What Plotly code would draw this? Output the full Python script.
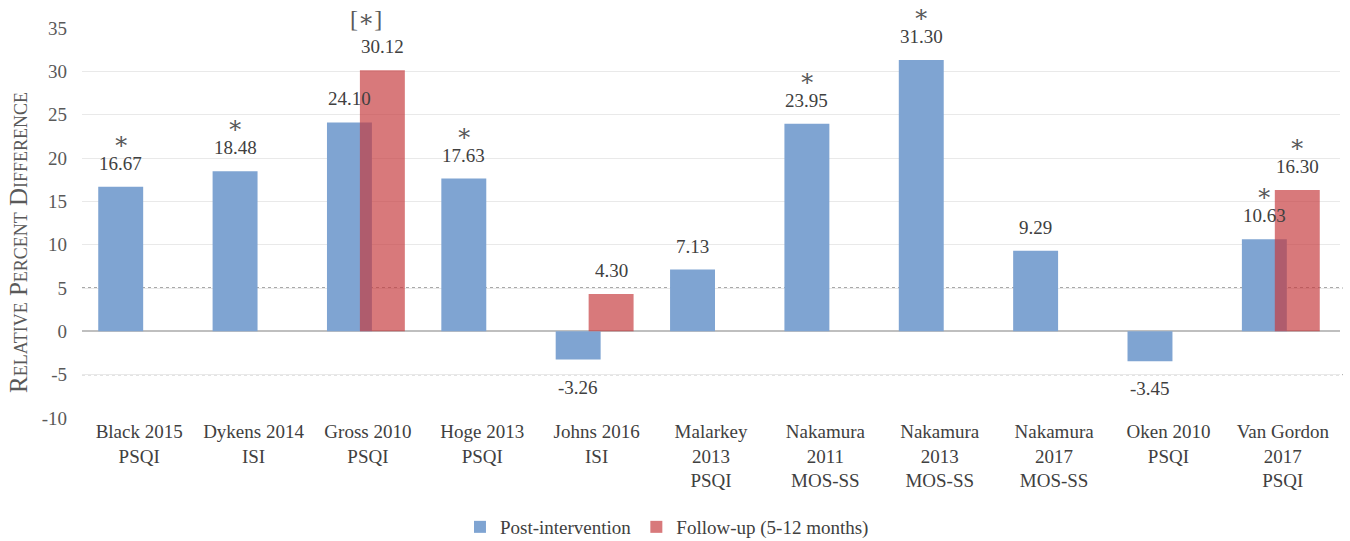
import plotly.graph_objects as go

# Studies and outcome measures (one category per study)
categories = [
    "Black 2015<br>PSQI",
    "Dykens 2014<br>ISI",
    "Gross 2010<br>PSQI",
    "Hoge 2013<br>PSQI",
    "Johns 2016<br>ISI",
    "Malarkey<br>2013<br>PSQI",
    "Nakamura<br>2011<br>MOS-SS",
    "Nakamura<br>2013<br>MOS-SS",
    "Nakamura<br>2017<br>MOS-SS",
    "Oken 2010<br>PSQI",
    "Van Gordon<br>2017<br>PSQI",
]

post_values = [16.67, 18.48, 24.10, 17.63, -3.26, 7.13, 23.95, 31.30, 9.29, -3.45, 10.63]
follow_values = [None, None, 30.12, None, 4.30, None, None, None, None, None, 16.30]

# significance markers placed above the value labels
post_sig = ["*", "*", "", "*", "", "", "*", "*", "", "", "*"]
follow_sig = ["", "", "[*]", "", "", "", "", "", "", "", "*"]

y_ticks = [-10, -5, 0, 5, 10, 15, 20, 25, 30, 35]
y_tick_text = ["-10", "-5", "0", "5", "10", "15", "20", "25", "30", "35"]
ref_lines = [5, -5]

x_pos = list(range(len(categories)))

BLUE = "#7FA4D2"
RED = "rgba(198,58,61,0.68)"
FONT = "Liberation Serif"
STAR_FONT = "DejaVu Serif"
TEXT = "#404040"
STAR = "\u2217"

BAR_W = 0.393
POST_OFF = -0.358
FOLLOW_OFF = -0.07

fig = go.Figure()
fig.add_trace(go.Bar(
    x=x_pos, y=post_values, name="Post-intervention",
    marker=dict(color=BLUE, line=dict(width=0)),
    width=BAR_W, offset=POST_OFF,
))
fig.add_trace(go.Bar(
    x=x_pos, y=follow_values, name="Follow-up (5-12 months)",
    marker=dict(color=RED, line=dict(width=0)),
    width=BAR_W, offset=FOLLOW_OFF,
))

annotations = []


def add_labels(values, sigs, center_off):
    for i, (v, s) in enumerate(zip(values, sigs)):
        if v is None:
            continue
        xc = i + center_off
        if v >= 0:
            annotations.append(dict(
                x=xc, y=v, xref="x", yref="y", text=f"{v:.2f}",
                showarrow=False, yanchor="bottom", yshift=11,
                font=dict(family=FONT, size=19, color=TEXT),
            ))
            if s == "*":
                annotations.append(dict(
                    x=xc, y=v, xref="x", yref="y", text=STAR,
                    showarrow=False, yanchor="bottom", yshift=35,
                    height=18, valign="middle",
                    font=dict(family=STAR_FONT, size=24, color="#595959"),
                ))
            elif s:
                # bracketed marker sits slightly left of the bar centre
                annotations.append(dict(
                    x=i - 0.02, y=v, xref="x", yref="y",
                    text=s.replace("*", f"<span style='font-family:{STAR_FONT}'>{STAR}</span>"),
                    showarrow=False, yanchor="bottom", yshift=35,
                    font=dict(family=FONT, size=24, color="#595959"),
                ))
        else:
            annotations.append(dict(
                x=xc, y=v, xref="x", yref="y", text=f"{v:.2f}",
                showarrow=False, yanchor="top", yshift=-15,
                font=dict(family=FONT, size=19, color=TEXT),
            ))


add_labels(post_values, post_sig, POST_OFF + BAR_W / 2)
add_labels(follow_values, follow_sig, FOLLOW_OFF + BAR_W / 2)

# rotated axis title, positioned in plot-fraction units
annotations.append(dict(
    x=(18 - 82) / 1258, y=(418 - 243) / 390, xref="paper", yref="paper",
    text="Relative Percent Difference", textangle=-90, showarrow=False,
    xanchor="center", yanchor="middle",
    font=dict(family=FONT, size=25, color="#595959", variant="small-caps"),
))

shapes = [
    dict(type="line", xref="paper", yref="y", x0=0, x1=1.002, y0=v, y1=v,
         line=dict(color="#505050", width=1, dash="dot"), layer="below")
    for v in ref_lines
]

fig.update_layout(
    width=1350, height=541,
    margin=dict(l=82, r=10, t=28, b=123, autoexpand=False),
    paper_bgcolor="white", plot_bgcolor="white",
    barmode="overlay",
    showlegend=True,
    legend=dict(
        orientation="h", x=0.465, xanchor="center",
        yref="container", y=(541 - 527) / 541, yanchor="middle",
        font=dict(family=FONT, size=19, color=TEXT),
        itemwidth=30, traceorder="normal",
    ),
    xaxis=dict(
        range=[-0.5, len(categories) - 0.5],
        tickvals=x_pos, ticktext=categories,
        tickfont=dict(family=FONT, size=19, color=TEXT),
        showgrid=False, showline=False, ticks="", zeroline=False,
        automargin=False, fixedrange=True,
    ),
    yaxis=dict(
        range=[-10, 35], tickvals=y_ticks, ticktext=y_tick_text,
        tickfont=dict(family=FONT, size=19, color="#595959"),
        showgrid=True, gridcolor="#E9E9E9", gridwidth=1,
        zeroline=True, zerolinecolor="#BFBFBF", zerolinewidth=2,
        showline=False, ticks="", ticklabelstandoff=14,
        automargin=False,
    ),
    annotations=annotations,
    shapes=shapes,
)

fig.write_html("out.html")
